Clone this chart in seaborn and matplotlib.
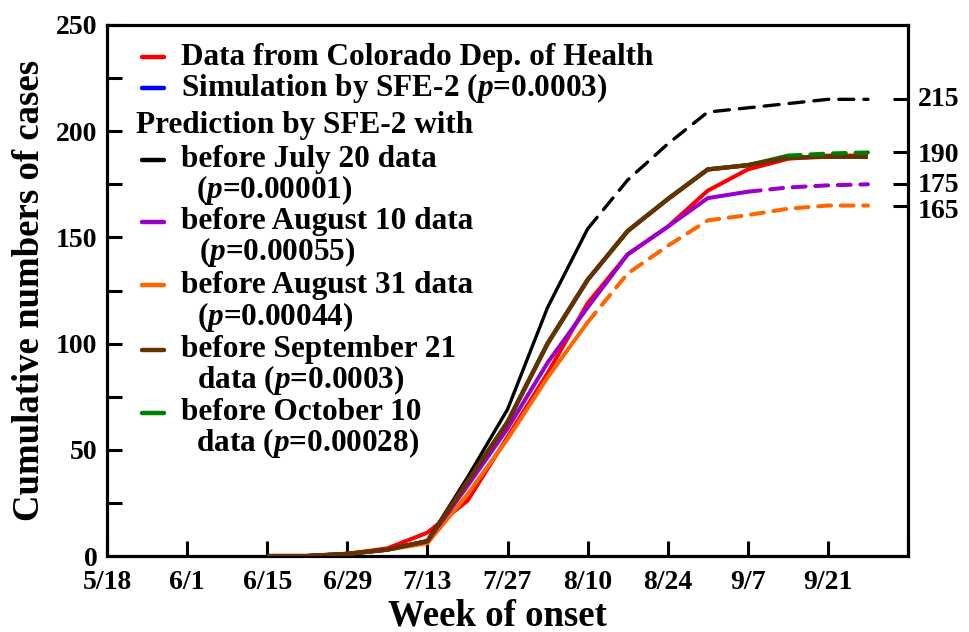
import matplotlib
matplotlib.use("Agg")
import matplotlib.pyplot as plt
import seaborn as sns
import pandas as pd
from matplotlib.ticker import FixedLocator, MultipleLocator

# ---- data: cumulative cases by week of onset ----
onset_weeks = ["6/15", "6/22", "6/29", "7/6", "7/13", "7/20", "7/27", "8/3",
               "8/10", "8/17", "8/24", "8/31", "9/7", "9/14", "9/21", "9/28"]
observed = [0, 0, 1, 3.6, 11, 26, 56, 86, 119, 142, 155, 172, 182, 187, 188.5, 188.5]
simulation = [0, 0, 1, 3, 7, 35, 63, 100, 130, 153, 168, 182, 184, 187.5, 188, 188]
pred_jul20 = [0, 0, 1, 3, 7, 37, 69, 117, 154, 177, 194, 209, 211, 213, 215, 215]
pred_aug10 = [0, 0, 1, 3, 7, 33, 60, 91, 117, 142, 155, 168.5, 171.5, 173.5, 174.5, 175]
pred_aug31 = [0, 0, 1, 3, 6, 29, 55, 84, 110, 133, 146, 158, 160.5, 163.5, 165, 165]
pred_sep21 = [0, 0, 1, 3, 7, 35, 63, 100, 130, 153, 168, 182, 184, 187.5, 188, 188]
pred_oct10 = [0, 0, 1, 3, 7, 35, 63, 100, 130, 153, 168, 182, 184, 188.5, 189.5, 190]

tick_dates = ["5/18", "6/1", "6/15", "6/29", "7/13", "7/27", "8/10", "8/24",
              "9/7", "9/21", "10/5"]
tick_labels = ["5/18", "6/1", "6/15", "6/29", "7/13", "7/27", "8/10", "8/24",
               "9/7", "9/21", ""]
final_values = [215, 190, 175, 165]
final_label_nudge = [0, -2, -1, -4]   # points, keeps the close labels apart

YEAR = 2020
def to_date(s):
    return pd.Timestamp(f"{YEAR}/{s}")

x = [to_date(s) for s in onset_weeks]
xt = [to_date(s) for s in tick_dates]

sns.set_theme(style="white")
plt.rcParams["font.family"] = ["Liberation Serif", "DejaVu Serif"]
plt.rcParams["font.weight"] = "bold"
plt.rcParams["mathtext.fontset"] = "custom"
plt.rcParams["mathtext.it"] = "Liberation Serif:italic:bold"
plt.rcParams["mathtext.rm"] = "Liberation Serif:bold"
plt.rcParams["mathtext.bf"] = "Liberation Serif:bold"
for key in ["text.color", "axes.labelcolor", "xtick.color", "ytick.color"]:
    plt.rcParams[key] = "black"

W, H = 969, 632
fig = plt.figure(figsize=(W / 100, H / 100), dpi=100)
L, R, T, B = 107, 908, 25, 556
ax = fig.add_axes([L / W, 1 - B / H, (R - L) / W, (B - T) / H])

RED, BLUE, BLACK = "#ff0000", "#0000ff", "#000000"
PURPLE, ORANGE, BROWN, GREEN = "#9900cc", "#ff6600", "#663300", "#008000"


def draw(values, color, lw, split=None, dashes=(4, 3), z=2):
    """Solid up to index `split`, dashed afterwards."""
    n = len(values) if split is None else split + 1
    sns.lineplot(x=x[:n], y=values[:n], color=color, lw=lw, ax=ax,
                 zorder=z, solid_capstyle="butt")
    if split is not None:
        sns.lineplot(x=x[split:], y=values[split:], color=color, lw=lw, ax=ax,
                     zorder=z, dash_capstyle="round")
        ax.lines[-1].set_dashes(dashes)


draw(simulation, BLUE, 2.9, z=1)
draw(pred_oct10[:14], GREEN, 2.9, z=1)
draw(observed, RED, 2.9, z=2)
draw(pred_aug31, ORANGE, 2.9, split=8, dashes=(3.2, 2.4), z=3)
draw(pred_aug10, PURPLE, 2.9, split=12, dashes=(3.2, 2.4), z=4)
draw(pred_jul20, BLACK, 2.4, split=8, dashes=(4.5, 3.0), z=5)
draw(pred_sep21, BROWN, 3.2, z=6)
# dashed tail of the October 10 prediction on top
sns.lineplot(x=x[13:], y=pred_oct10[13:], color=GREEN, lw=2.9, ax=ax, zorder=7)
ax.lines[-1].set_dashes((3.2, 2.4))
ax.lines[-1].set_dash_capstyle("round")

ax.set_xlim(xt[0], xt[-1])
ax.set_ylim(0, 250)

# axes frame and ticks
for sp in ax.spines.values():
    sp.set_linewidth(2.3)
    sp.set_color("black")
ax.xaxis.set_major_locator(FixedLocator([matplotlib.dates.date2num(d) for d in xt]))
ax.set_xticklabels(tick_labels)
ax.yaxis.set_major_locator(MultipleLocator(50))
ax.yaxis.set_minor_locator(MultipleLocator(25))
ax.tick_params(axis="both", which="both", direction="in", length=10.5, width=2.2,
               color="black", labelsize=20, pad=7)
ax.tick_params(axis="y", which="both", right=False, left=True)
ax.tick_params(axis="x", which="both", top=False, bottom=True, pad=10)
ax.set_xlabel("Week of onset", fontsize=26.5, fontweight="bold")
ax.set_ylabel("Cumulative numbers of cases", fontsize=26.5, fontweight="bold", labelpad=6)
ax.xaxis.set_label_coords(0.487, -0.08)

# right-hand axis: ticks at the final predicted totals
ax2 = ax.twinx()
ax2.set_ylim(0, 250)
ax2.set_yticks(final_values)
ax2.set_yticklabels([])
ax2.tick_params(axis="y", direction="in", length=10.5, width=2.2, color="black")
for sp in ax2.spines.values():
    sp.set_visible(False)
ax2.grid(False)
ax.grid(False)
for v, dy in zip(final_values, final_label_nudge):
    ax.annotate(str(v), xy=(1.0, v), xycoords=("axes fraction", "data"),
                xytext=(7, dy), textcoords="offset points", fontsize=20,
                fontweight="bold", ha="left", va="center", annotation_clip=False)

# legend drawn as text rows with short line handles
def frac(px, py):
    return (px - L) / (R - L), (B - py) / (B - T)

FS = 22.5
hx0, hx1, tx, sx = 142, 164, 181, 196
rows = [
    (57, RED, "Data from Colorado Dep. of Health", tx),
    (88, BLUE, "Simulation by SFE-2 ($p$=0.0003)", tx),
    (126, None, "Prediction by SFE-2 with", 136),
    (160, BLACK, "before July 20 data", tx),
    (190, None, "($p$=0.00001)", sx),
    (222, PURPLE, "before August 10 data", tx),
    (252, None, "($p$=0.00055)", sx + 3),
    (285, ORANGE, "before August 31 data", tx),
    (317, None, "($p$=0.00044)", sx + 1),
    (350, BROWN, "before September 21", tx),
    (380, None, "data ($p$=0.0003)", sx + 1),
    (413, GREEN, "before October 10", tx),
    (443, None, "data ($p$=0.00028)", sx),
]
for py, col, label, px in rows:
    if col is not None:
        a0, b0 = frac(hx0, py)
        a1, _ = frac(hx1, py)
        ax.plot([a0, a1], [b0, b0], color=col, lw=3.2, transform=ax.transAxes,
                solid_capstyle="round", zorder=8)
    tx_, ty_ = frac(px, py)
    ax.text(tx_, ty_, label, transform=ax.transAxes, fontsize=FS, fontweight="bold",
            va="center", ha="left", zorder=8)

fig.savefig("out.png", dpi=100)
